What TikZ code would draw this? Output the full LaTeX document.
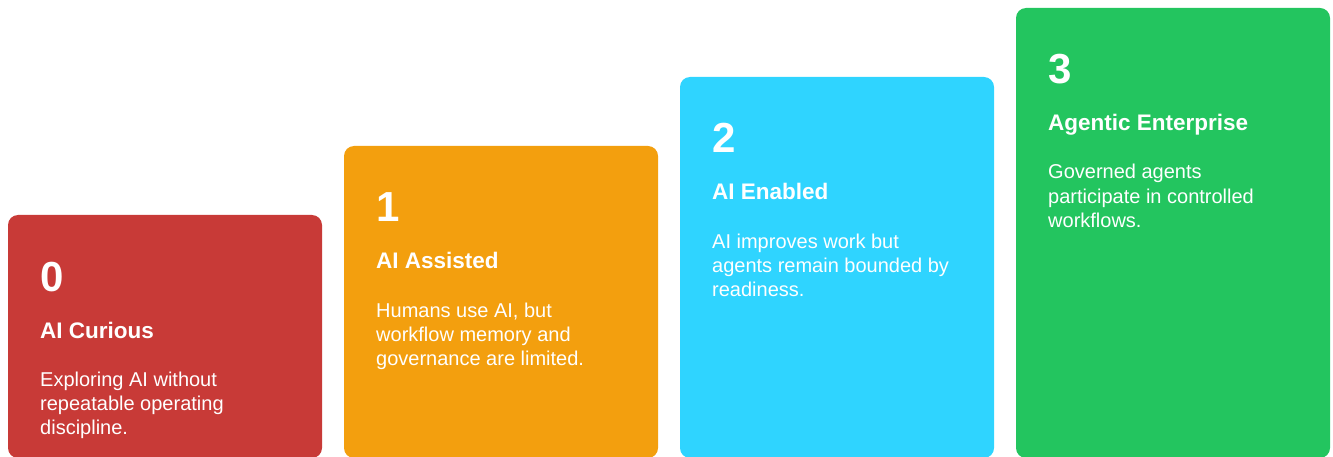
\documentclass[tikz,border=0pt]{standalone}
\usepackage{fontspec}
\setmainfont{Liberation Sans}
\definecolor{cRed}{HTML}{C83A37}
\definecolor{cOrange}{HTML}{F39F0E}
\definecolor{cCyan}{HTML}{2FD4FF}
\definecolor{cGreen}{HTML}{23C55F}
\tikzset{
  stagebox/.style={rounded corners=10pt},
  numtext/.style={anchor=base west, inner sep=0pt, text=white, font=\fontsize{42}{42}\selectfont\bfseries},
  titletext/.style={anchor=base west, inner sep=0pt, text=white, font=\fontsize{22.5}{24}\selectfont\bfseries},
  bodytext/.style={anchor=base west, inner sep=0pt, text=white, align=left, font=\fontsize{20}{24}\selectfont},
}
\begin{document}
\begin{tikzpicture}[x=1pt,y=-1pt]
\useasboundingbox (0,0) rectangle (1333,457);
\begin{scope}
\clip (0,0) rectangle (1333,457);
% stage 0
\fill[cRed, stagebox] (8,215) rectangle (322,458);
\node[numtext] (n0) at (40,291) {0};
\node[titletext] (t0) at (40,338) {AI Curious};
\node[bodytext] (b0) at (40,434) {Exploring AI without\\repeatable operating\\discipline.};
% stage 1
\fill[cOrange, stagebox] (344,146) rectangle (658,458);
\node[numtext] (n1) at (376,222) {1};
\node[titletext] (t1) at (376,269) {AI Assisted};
\node[bodytext] (b1) at (376,365) {Humans use AI, but\\workflow memory and\\governance are limited.};
% stage 2
\fill[cCyan, stagebox] (680,77) rectangle (994,458);
\node[numtext] (n2) at (712,153) {2};
\node[titletext] (t2) at (712,200) {AI Enabled};
\node[bodytext] (b2) at (712,296) {AI improves work but\\agents remain bounded by\\readiness.};
% stage 3
\fill[cGreen, stagebox] (1016,8) rectangle (1330,458);
\node[numtext] (n3) at (1048,84) {3};
\node[titletext] (t3) at (1048,131) {Agentic Enterprise};
\node[bodytext] (b3) at (1048,227) {Governed agents\\participate in controlled\\workflows.};
\end{scope}
\end{tikzpicture}
\end{document}
